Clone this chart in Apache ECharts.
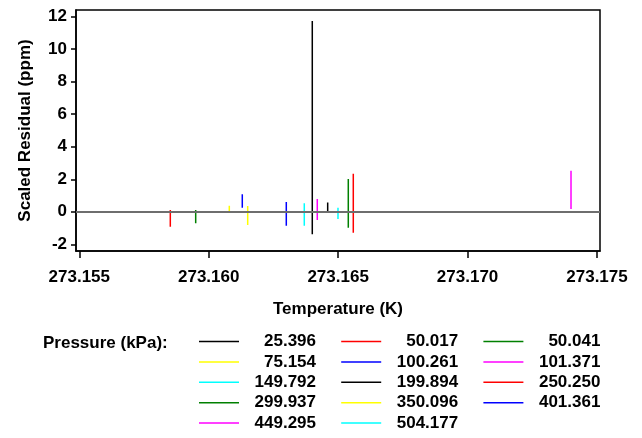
<!DOCTYPE html>
<html>
<head>
<meta charset="utf-8">
<script src="https://cdn.jsdelivr.net/npm/echarts@6.0.0/dist/echarts.min.js"></script>
<style>
  html, body { margin: 0; padding: 0; background: #fff; }
  #chart { width: 642px; height: 438px; }
</style>
</head>
<body>
<div id="chart"></div>
<script>
// one vertical residual segment per isobar
const pressures = ['25.396', '50.017', '50.041', '75.154', '100.261', '101.371', '149.792',
                   '199.894', '250.250', '299.937', '350.096', '401.361', '449.295', '504.177'];
const temperatures = [273.164001, 273.158516, 273.159497, 273.160795, 273.161297, 273.164194, 273.163692,
                      273.164596, 273.165585, 273.165392, 273.161506, 273.162997, 273.173996, 273.164994];
const residualHigh = [11.73, 0.11, 0.11, 0.38, 1.08, 0.79, 0.52,
                      0.58, 2.34, 2.02, 0.36, 0.60, 2.53, 0.25];
const residualLow = [-1.38, -0.92, -0.71, 0.0, 0.25, -0.50, -0.85,
                     -0.06, -1.29, -0.98, -0.81, -0.85, 0.17, -0.44];
const xTicks = [273.155, 273.160, 273.165, 273.170, 273.175];
const yTicks = [-2, 0, 2, 4, 6, 8, 10, 12];
const legendColumns = [
  ['25.396', '75.154', '149.792', '299.937', '449.295'],
  ['50.017', '100.261', '199.894', '350.096', '504.177'],
  ['50.041', '101.371', '250.250', '401.361']
];

const palette = ['#000000', '#ff0000', '#008000', '#ffff00', '#0000ff', '#ff00ff', '#00ffff'];
const font = '"Liberation Sans", Arial, sans-serif';

var chart = echarts.init(document.getElementById('chart'));

var series = pressures.map(function (p, i) {
  return {
    name: p,
    type: 'line',
    symbol: 'none',
    color: palette[i % 7],
    lineStyle: { width: 1.5 },
    z: 3,
    data: [[temperatures[i], residualHigh[i]], [temperatures[i], residualLow[i]]]
  };
});
// zero reference line
series[0].markLine = {
  silent: true,
  symbol: 'none',
  label: { show: false },
  lineStyle: { color: '#6e6e6e', width: 2, type: 'solid' },
  data: [{ yAxis: 0 }]
};

var legends = legendColumns.map(function (names, c) {
  return {
    orient: 'vertical',
    left: 199 + c * 142.2,
    top: 333,
    padding: 0,
    itemGap: 3.4,
    itemWidth: 40,
    itemHeight: 1.5,
    icon: 'rect',
    selectedMode: false,
    data: names,
    formatter: function (name) { return '{a|' + name + '}'; },
    textStyle: {
      rich: {
        a: { width: 72, align: 'right', fontSize: 17, fontWeight: 'bold', fontFamily: font, color: '#000' }
      }
    }
  };
});

chart.setOption({
  animation: false,
  backgroundColor: '#fff',
  grid: {
    left: 76, right: 42, top: 10, bottom: 187,
    show: true, borderColor: '#000', borderWidth: 1.5
  },
  legend: legends,
  graphic: [{
    type: 'text',
    left: 43,
    top: 335,
    style: { text: 'Pressure (kPa):', font: 'bold 17px ' + font, fill: '#000' }
  }],
  xAxis: {
    type: 'value',
    min: 273.154873,
    max: 273.175116,
    name: 'Temperature (K)',
    nameLocation: 'middle',
    nameGap: 50,
    nameTextStyle: { fontSize: 17, fontWeight: 'bold', fontFamily: font, color: '#000' },
    splitLine: { show: false },
    axisLine: { onZero: false, lineStyle: { color: '#000', width: 1.5 } },
    axisTick: { customValues: xTicks, length: 7, lineStyle: { color: '#000', width: 1.5 } },
    axisLabel: {
      customValues: xTicks,
      margin: 18,
      fontSize: 17, fontWeight: 'bold', fontFamily: font, color: '#000',
      formatter: function (v) { return v.toFixed(3); }
    }
  },
  yAxis: {
    type: 'value',
    min: -2.41,
    max: 12.41,
    name: 'Scaled Residual (ppm)',
    nameLocation: 'middle',
    nameGap: 42,
    nameTextStyle: { fontSize: 17, fontWeight: 'bold', fontFamily: font, color: '#000' },
    splitLine: { show: false },
    axisLine: { show: true, onZero: false, lineStyle: { color: '#000', width: 1.5 } },
    axisTick: { show: true, customValues: yTicks, length: 5, lineStyle: { color: '#000', width: 1.5 } },
    axisLabel: {
      customValues: yTicks,
      margin: 9,
      fontSize: 17, fontWeight: 'bold', fontFamily: font, color: '#000'
    }
  },
  series: series
});
</script>
</body>
</html>
